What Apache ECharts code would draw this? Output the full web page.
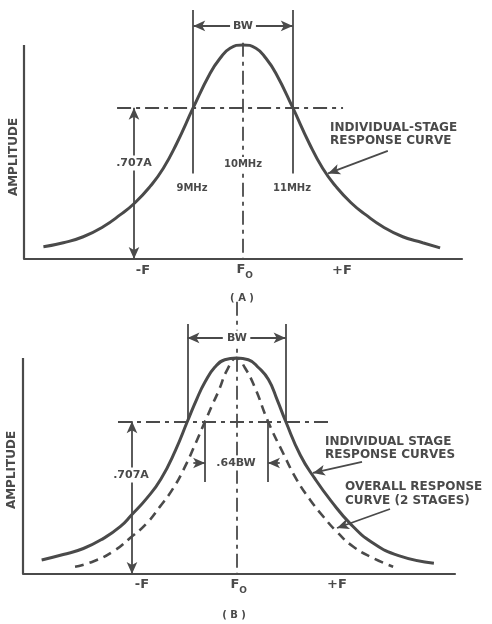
<!DOCTYPE html>
<html><head><meta charset="utf-8">
<script src="https://cdn.jsdelivr.net/npm/echarts@6/dist/echarts.min.js"></script>
<style>html,body{margin:0;padding:0;background:#fff}#c{width:492px;height:624px}</style>
</head><body><div id="c"></div>
<script>
// ---- Data (frequency in MHz, relative amplitude) ----
// Panel A: individual-stage response curve
const curveA_freq = [5.99, 6.39, 6.79, 7.19, 7.53, 7.83, 8.13, 8.40, 8.67, 9.0, 9.34, 9.54, 9.74, 10.0, 10.26, 10.46, 10.66, 11.0, 11.33, 11.6, 11.87, 12.17, 12.47, 12.81, 13.21, 13.61, 13.96];
const curveA_amp  = [0.057, 0.076, 0.104, 0.151, 0.206, 0.263, 0.338, 0.424, 0.541, 0.707, 0.868, 0.938, 0.985, 1.0, 0.985, 0.938, 0.868, 0.707, 0.541, 0.424, 0.338, 0.263, 0.206, 0.151, 0.104, 0.076, 0.052];
// Panel B: individual stage response curve (solid)
const curveB1_freq = [6.03, 6.47, 6.88, 7.29, 7.63, 7.86, 8.17, 8.46, 8.76, 9.0, 9.19, 9.36, 9.56, 9.76, 10.0, 10.24, 10.45, 10.65, 10.83, 11.0, 11.3, 11.6, 11.92, 12.33, 12.77, 13.3, 14.02];
const curveB1_amp  = [0.065, 0.09, 0.118, 0.165, 0.219, 0.273, 0.35, 0.44, 0.575, 0.707, 0.81, 0.89, 0.958, 0.992, 1.0, 0.992, 0.955, 0.9, 0.805, 0.707, 0.55, 0.44, 0.34, 0.23, 0.145, 0.085, 0.05];
// Panel B: overall response curve, 2 stages (dashed)
const curveB2_freq = [6.71, 7.08, 7.49, 7.85, 8.17, 8.44, 8.71, 8.95, 9.15, 9.36, 9.5, 9.63, 9.82, 10.0, 10.17, 10.38, 10.64, 10.95, 11.23, 11.5, 11.77, 12.04, 12.38, 12.79, 13.19];
const curveB2_amp  = [0.034, 0.058, 0.105, 0.17, 0.235, 0.312, 0.397, 0.497, 0.597, 0.707, 0.78, 0.845, 0.95, 1.0, 0.955, 0.86, 0.707, 0.559, 0.435, 0.343, 0.265, 0.196, 0.126, 0.073, 0.034];
// Marker values
const halfPower = 0.707;
const f0 = 10, fLow = 9, fHigh = 11;
const fLow2 = 9.36, fHigh2 = 10.64;
const ampTop = 1.0;

// ---- Styling ----
const INK = '#4a4a4a';
const DASHDOT = [14, 5, 4, 5];
const FONT = '"DejaVu Sans", "Liberation Sans", sans-serif';
const SMOOTH = 0.5;

function pts(xs, ys) { return xs.map((x, i) => [x, ys[i]]); }
function L(a, b, o) {
  o = o || {};
  const s = { coord: a, symbol: o.s0 || 'none', symbolSize: [8, 12] };
  const e = { coord: b, symbol: o.s1 || 'none', symbolSize: [8, 12] };
  if (o.dash) s.lineStyle = { type: DASHDOT, width: 1.8, color: INK };
  if (o.axis) s.lineStyle = { type: 'solid', width: 2.2, color: INK };
  return [s, e];
}

const xA = [5.6, 14.4], xB = [5.65, 14.45];

const annA = [
  L([xA[0], 0], [xA[0], ampTop], { axis: 1 }),
  L([7.47, halfPower], [12.01, halfPower], { dash: 1 }),
  L([f0, 1.01], [f0, 0], { dash: 1 }),
  L([fLow, 1.164], [fLow, 0.40]),
  L([fHigh, 1.164], [fHigh, 0.40]),
  L([9.74, 1.089], [fLow, 1.089], { s1: 'arrow' }),
  L([10.26, 1.089], [fHigh, 1.089], { s1: 'arrow' }),
  L([7.81, halfPower], [7.81, 0], { s0: 'arrow', s1: 'arrow' }),
  L([12.91, 0.505], [11.71, 0.40], { s1: 'arrow' })
];
const annB = [
  L([xB[0], 0], [xB[0], ampTop], { axis: 1 }),
  L([7.585, halfPower], [11.945, halfPower], { dash: 1 }),
  L([f0, 1.26], [f0, 0], { dash: 1 }),
  L([fLow, 1.157], [fLow, halfPower]),
  L([fHigh, 1.157], [fHigh, halfPower]),
  L([9.72, 1.093], [fLow, 1.093], { s1: 'arrow' }),
  L([10.28, 1.093], [fHigh, 1.093], { s1: 'arrow' }),
  L([fLow2, halfPower], [fLow2, 0.426]),
  L([fHigh2, halfPower], [fHigh2, 0.426]),
  L([9.12, 0.514], [fLow2, 0.514], { s1: 'arrow' }),
  L([10.88, 0.514], [fHigh2, 0.514], { s1: 'arrow' }),
  L([7.87, halfPower], [7.87, 0], { s0: 'arrow', s1: 'arrow' }),
  L([12.556, 0.519], [11.557, 0.468], { s1: 'arrow' }),
  L([13.126, 0.301], [12.046, 0.213], { s1: 'arrow' })
];

function markLine(data) {
  return {
    silent: true, animation: false, symbol: ['none', 'none'],
    label: { show: false }, emphasis: { disabled: true },
    lineStyle: { color: INK, width: 1.8, type: 'solid' },
    data: data
  };
}

function axisPair(idx, xr, ymax) {
  return {
    x: { gridIndex: idx, type: 'value', min: xr[0], max: xr[1],
         axisLine: { show: true, onZero: false, lineStyle: { color: INK, width: 2.2 } },
         axisTick: { show: false }, axisLabel: { show: false }, splitLine: { show: false } },
    y: { gridIndex: idx, type: 'value', min: 0, max: ymax,
         axisLine: { show: false },
         axisTick: { show: false }, axisLabel: { show: false }, splitLine: { show: false } }
  };
}
const aA = axisPair(0, xA, 1.2), aB = axisPair(1, xB, 1.3);

function T(text, x, y, o) {
  o = o || {};
  const style = {
    text: text, x: x, y: y, fill: INK,
    align: o.align || 'center', verticalAlign: 'middle',
    font: 'bold ' + (o.size || 11) + 'px ' + FONT
  };
  if (o.bg) { style.backgroundColor = '#fff'; style.padding = [2, 2]; }
  const el = { type: 'text', z: 100, style: style, silent: true };
  if (o.rot) { el.rotation = o.rot; el.x = x; el.y = y; style.x = 0; style.y = 0; }
  return el;
}

const texts = [
  // Panel A
  T('BW', 243, 26, { size: 11 }),
  T('.707A', 134, 163, { bg: 1, size: 11 }),
  T('10MHz', 243, 164, { bg: 1, size: 10 }),
  T('9MHz', 192, 188, { size: 10 }),
  T('11MHz', 292, 188, { size: 10 }),
  T('INDIVIDUAL-STAGE', 330, 128, { align: 'left', size: 12 }),
  T('RESPONSE CURVE', 330, 141, { align: 'left', size: 12 }),
  T('AMPLITUDE', 14, 157, { rot: Math.PI / 2, size: 12 }),
  T('-F', 143, 271, { size: 13 }),
  T('F', 241, 270, { size: 13 }),
  T('O', 249, 276, { size: 9 }),
  T('+F', 342, 271, { size: 13 }),
  T('( A )', 242, 298, { size: 10 }),
  // Panel B
  T('BW', 237, 338, { bg: 1, size: 11 }),
  T('.707A', 131, 475, { bg: 1, size: 11 }),
  T('.64BW', 236, 463, { bg: 1, size: 11 }),
  T('INDIVIDUAL STAGE', 325, 442, { align: 'left', size: 12 }),
  T('RESPONSE CURVES', 325, 455, { align: 'left', size: 12 }),
  T('OVERALL RESPONSE', 345, 487, { align: 'left', size: 12 }),
  T('CURVE (2 STAGES)', 345, 501, { align: 'left', size: 12 }),
  T('AMPLITUDE', 12, 470, { rot: Math.PI / 2, size: 12 }),
  T('-F', 142, 585, { size: 13 }),
  T('F', 235, 585, { size: 13 }),
  T('O', 243, 591, { size: 9 }),
  T('+F', 337, 585, { size: 13 }),
  T('( B )', 234, 615, { size: 10 })
];

const chart = echarts.init(document.getElementById('c'), null, { renderer: 'canvas' });
chart.setOption({
  backgroundColor: '#fff',
  animation: false,
  grid: [
    { left: 24, top: 2.2, width: 438, height: 256.8 },
    { left: 23, top: 293.2, width: 432, height: 280.8 }
  ],
  xAxis: [aA.x, aB.x],
  yAxis: [aA.y, aB.y],
  series: [
    { type: 'line', xAxisIndex: 0, yAxisIndex: 0, data: pts(curveA_freq, curveA_amp),
      smooth: SMOOTH, symbol: 'none', clip: false, silent: true,
      lineStyle: { color: INK, width: 3 }, markLine: markLine(annA) },
    { type: 'line', xAxisIndex: 1, yAxisIndex: 1, data: pts(curveB1_freq, curveB1_amp),
      smooth: SMOOTH, symbol: 'none', clip: false, silent: true,
      lineStyle: { color: INK, width: 3 }, markLine: markLine(annB) },
    { type: 'line', xAxisIndex: 1, yAxisIndex: 1, data: pts(curveB2_freq, curveB2_amp),
      smooth: SMOOTH, symbol: 'none', clip: false, silent: true,
      lineStyle: { color: INK, width: 2.6, type: [9, 6] } }
  ],
  graphic: texts
});
</script></body></html>
